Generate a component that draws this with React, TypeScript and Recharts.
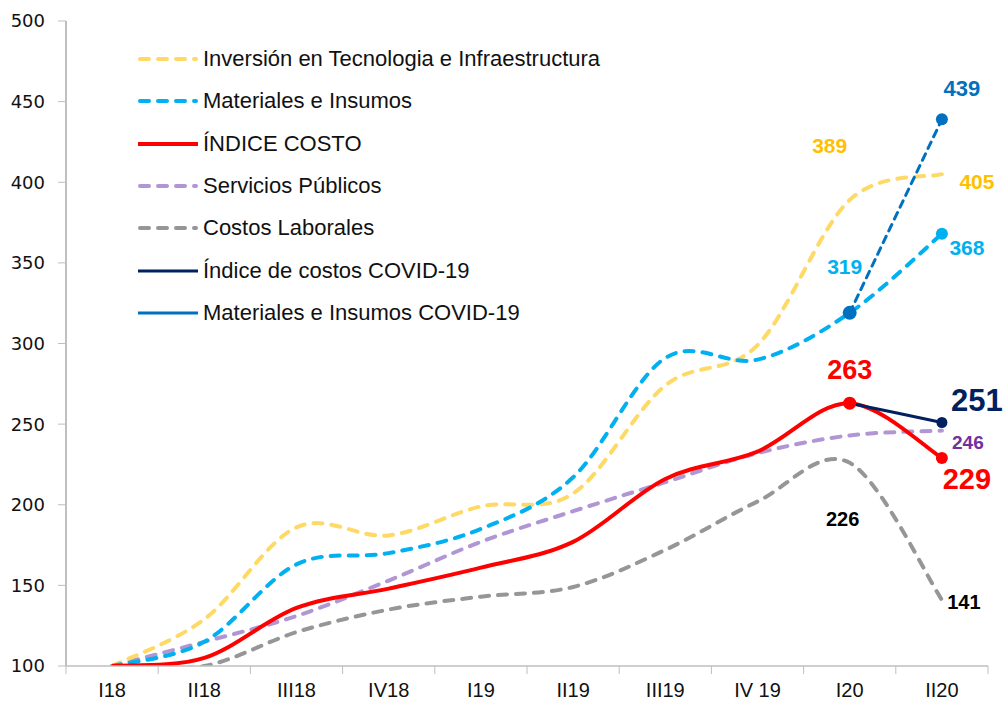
import React from 'react';
import { LineChart, Line, XAxis, YAxis, Legend } from 'recharts';

const categories = ['I18', 'II18', 'III18', 'IV18', 'I19', 'II19', 'III19', 'IV 19', 'I20', 'II20'];
const inversion = [100, 129, 186, 181, 199, 207, 274, 299, 389, 405];
const materiales = [100, 115, 163, 170, 185, 217, 291, 290, 319, 368];
const indice = [100, 105, 136, 148, 161, 177, 216, 233, 263, 229];
const servicios = [100, 115, 131, 153, 177, 196, 214, 232, 243, 246];
const laborales = [100, 100, 121, 135, 143, 149, 172, 202, 226, 141];
const indiceCovid = [null, null, null, null, null, null, null, null, 263, 251];
const materialesCovid = [null, null, null, null, null, null, null, null, 319, 439];
const yTicks = [100, 150, 200, 250, 300, 350, 400, 450, 500];

const data = categories.map((cat, i) => ({
  cat,
  inversion: inversion[i],
  materiales: materiales[i],
  indice: indice[i],
  servicios: servicios[i],
  laborales: laborales[i],
  indiceCovid: indiceCovid[i],
  materialesCovid: materialesCovid[i],
}));

const W = 1004;
const H = 706;
const M = { top: 21, right: 16, bottom: 10, left: 0 };
const Y_AXIS_W = 66;
const PLOT_W = W - M.left - M.right - Y_AXIS_W;
const BW = PLOT_W / categories.length;

type LabelSpec = { index: number; dx: number; dy: number; size: number; color: string };
type DotSpec = { index: number; r: number; color: string };
type Series = {
  key: string;
  name: string;
  color: string;
  width: number;
  dash?: string;
  legendDash?: string;
  labels: LabelSpec[];
  dots: DotSpec[];
};

const series: Series[] = [
  {
    key: 'inversion', name: 'Inversión en Tecnologia e Infraestructura', color: '#FFD966', width: 4, dash: '9 9', legendDash: '9 9',
    labels: [
      { index: 8, dx: -20, dy: -54, size: 21, color: '#FFC000' },
      { index: 9, dx: 35, dy: 7, size: 21, color: '#FFC000' },
    ],
    dots: [],
  },
  {
    key: 'materiales', name: 'Materiales e Insumos', color: '#00B0F0', width: 4, dash: '9 9', legendDash: '9 9',
    labels: [
      { index: 8, dx: -5, dy: -46, size: 21, color: '#00B0F0' },
      { index: 9, dx: 25, dy: 14, size: 21, color: '#00B0F0' },
    ],
    dots: [{ index: 9, r: 6, color: '#00B0F0' }],
  },
  {
    key: 'indice', name: 'ÍNDICE COSTO', color: '#FF0000', width: 4,
    labels: [
      { index: 8, dx: 0, dy: -33, size: 27, color: '#FF0000' },
      { index: 9, dx: 25, dy: 21, size: 29, color: '#FF0000' },
    ],
    dots: [{ index: 8, r: 6.5, color: '#FF0000' }, { index: 9, r: 6, color: '#FF0000' }],
  },
  {
    key: 'servicios', name: 'Servicios Públicos', color: '#B196D4', width: 4, dash: '9 9', legendDash: '9 9',
    labels: [{ index: 9, dx: 26, dy: 12, size: 19, color: '#7030A0' }],
    dots: [],
  },
  {
    key: 'laborales', name: 'Costos Laborales', color: '#969696', width: 4, dash: '9 9', legendDash: '9 9',
    labels: [
      { index: 8, dx: -7, dy: 56, size: 20, color: '#000000' },
      { index: 9, dx: 22, dy: 2, size: 20, color: '#000000' },
    ],
    dots: [],
  },
  {
    key: 'indiceCovid', name: 'Índice de costos COVID-19', color: '#002060', width: 3,
    labels: [{ index: 9, dx: 35, dy: -22, size: 31, color: '#002060' }],
    dots: [{ index: 9, r: 5.5, color: '#002060' }],
  },
  {
    key: 'materialesCovid', name: 'Materiales e Insumos COVID-19', color: '#0070C0', width: 3, dash: '7 6',
    labels: [{ index: 9, dx: 20, dy: -31, size: 22, color: '#0070C0' }],
    dots: [{ index: 8, r: 7, color: '#0070C0' }, { index: 9, r: 6, color: '#0070C0' }],
  },
];

const drawOrder = ['laborales', 'servicios', 'inversion', 'materiales', 'indice', 'indiceCovid', 'materialesCovid'];

// Excel-like smoothed line (Catmull-Rom through points)
const excelSmooth: any = (context: any) => {
  let pts: number[][] = [];
  return {
    areaStart() {},
    areaEnd() {},
    lineStart() {
      pts = [];
    },
    point(x: number, y: number) {
      pts.push([+x, +y]);
    },
    lineEnd() {
      const n = pts.length;
      if (!n) return;
      context.moveTo(pts[0][0], pts[0][1]);
      if (n === 1) {
        context.lineTo(pts[0][0], pts[0][1]);
        return;
      }
      for (let i = 0; i < n - 1; i++) {
        const p0 = pts[i - 1] || pts[i];
        const p1 = pts[i];
        const p2 = pts[i + 1];
        const p3 = pts[i + 2] || p2;
        context.bezierCurveTo(
          p1[0] + (p2[0] - p0[0]) / 6,
          p1[1] + (p2[1] - p0[1]) / 6,
          p2[0] - (p3[0] - p1[0]) / 6,
          p2[1] - (p3[1] - p1[1]) / 6,
          p2[0],
          p2[1]
        );
      }
    },
  };
};

const XTick = (props: any) => {
  const { x, y, payload, index } = props;
  const left = x - BW / 2;
  return (
    <g>
      <line x1={left} y1={y} x2={left} y2={y + 8} stroke="#BFBFBF" strokeWidth={1} />
      {index === categories.length - 1 && (
        <line x1={x + BW / 2} y1={y} x2={x + BW / 2} y2={y + 8} stroke="#BFBFBF" strokeWidth={1} />
      )}
      <text
        x={x}
        y={y + 24}
        textAnchor="middle"
        dominantBaseline="central"
        fontFamily="Liberation Sans"
        fontSize={20}
        fill="#111"
      >
        {payload.value}
      </text>
    </g>
  );
};

const renderLegend = () => (
  <div style={{ fontFamily: 'Liberation Sans', fontSize: 22, color: '#111' }}>
    {series.map((s) => (
      <div key={s.key} style={{ height: 42.3, display: 'flex', alignItems: 'center', whiteSpace: 'nowrap' }}>
        <svg width={72} height={12} style={{ display: 'block' }}>
          <line
            x1={s.legendDash ? 12 : 10}
            y1={6}
            x2={s.legendDash ? 68 : 70}
            y2={6}
            stroke={s.color}
            strokeWidth={s.width === 3 ? 3 : 4}
            strokeDasharray={s.legendDash}
            strokeLinecap={s.legendDash ? 'round' : 'butt'}
          />
        </svg>
        <span style={{ marginLeft: 3, lineHeight: '24px' }}>{s.name}</span>
      </div>
    ))}
  </div>
);

const makeDot = (s: Series) => (props: any) => {
  const { cx, cy, index } = props;
  const d = s.dots.find((dd) => dd.index === index);
  if (!d || cx == null || cy == null) return <g key={`${s.key}-d-${index}`} />;
  return <circle key={`${s.key}-d-${index}`} cx={cx} cy={cy} r={d.r} fill={d.color} stroke="none" />;
};

const makeLabel = (s: Series) => (props: any) => {
  const { x, y, index, value } = props;
  const l = s.labels.find((ll) => ll.index === index);
  if (!l || x == null || y == null || value == null) return <g key={`${s.key}-l-${index}`} />;
  return (
    <text
      key={`${s.key}-l-${index}`}
      x={x + l.dx}
      y={y + l.dy}
      textAnchor="middle"
      dominantBaseline="central"
      fontFamily="Liberation Sans"
      fontWeight="bold"
      fontSize={l.size}
      fill={l.color}
    >
      {value}
    </text>
  );
};

export default function App() {
  return (
    <div style={{ position: 'absolute', left: 0, top: 0, width: W, height: H, background: '#fff' }}>
      <LineChart width={W} height={H} data={data} margin={M}>
        <XAxis
          dataKey="cat"
          scale="band"
          height={30}
          interval={0}
          axisLine={{ stroke: '#BFBFBF', strokeWidth: 1.5 }}
          tickLine={false}
          tickSize={0}
          tickMargin={0}
          tick={<XTick />}
        />
        <YAxis
          domain={[100, 500]}
          ticks={yTicks}
          width={Y_AXIS_W}
          allowDataOverflow
          axisLine={{ stroke: '#BFBFBF', strokeWidth: 2 }}
          tickLine={{ stroke: '#BFBFBF' }}
          tickSize={8}
          tickMargin={13}
          tick={{ fontFamily: 'DejaVu Sans', fontSize: 18, fill: '#111' }}
        />
        <Legend
          content={renderLegend}
          layout="vertical"
          align="center"
          verticalAlign="middle"
          wrapperStyle={{ left: 128, top: 38, width: 540, height: 300 }}
        />
        {drawOrder.map((k) => {
          const s = series.find((ss) => ss.key === k)!;
          return (
            <Line
              key={s.key}
              dataKey={s.key}
              name={s.name}
              type={excelSmooth}
              stroke={s.color}
              strokeWidth={s.width}
              strokeDasharray={s.dash}
              strokeLinecap={s.dash ? 'round' : 'butt'}
              dot={makeDot(s)}
              activeDot={false}
              label={makeLabel(s)}
              isAnimationActive={false}
            />
          );
        })}
      </LineChart>
    </div>
  );
}
